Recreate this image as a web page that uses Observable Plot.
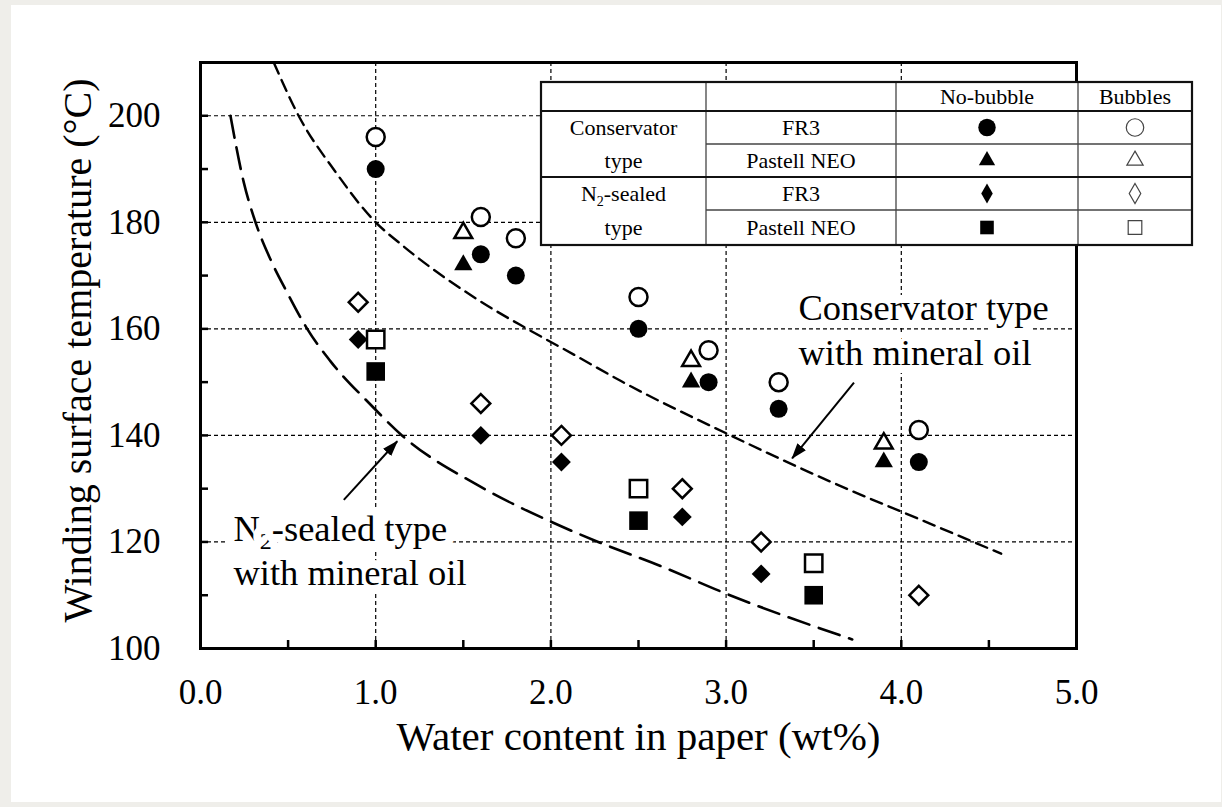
<!DOCTYPE html>
<html>
<head>
<meta charset="utf-8">
<script src="https://cdn.jsdelivr.net/npm/d3@7"></script>
<script src="https://cdn.jsdelivr.net/npm/@observablehq/plot@0.6"></script>
<style>
  html, body { margin: 0; padding: 0; background: #efeeea; width: 1222px; height: 807px; overflow: hidden; }
  #panel { position: absolute; left: 11px; top: 5px; width: 1210px; height: 797px; background: #ffffff; }
  #legend { position: absolute; left: 538px; top: 79px; }
</style>
</head>
<body>
<div id="panel"></div>
<div id="legend"></div>
<script>
// ---------------- data ----------------
// Conservator type, FR3 (circles)
const waterConsFR3 = [1.0, 1.6, 1.8, 2.5, 2.9, 3.3, 4.1];
const tempConsFR3NoBubble = [190, 174, 170, 160, 150, 145, 135];
const tempConsFR3Bubbles  = [196, 181, 177, 166, 156, 150, 141];
// Conservator type, Pastell NEO (triangles)
const waterConsNEO = [1.5, 2.8, 3.9];
const tempConsNEONoBubble = [172, 150, 135];
const tempConsNEOBubbles  = [178, 154, 138.5];
// N2-sealed type, FR3 (diamonds)
const waterN2FR3NoBubble = [0.9, 1.6, 2.06, 2.75, 3.2];
const tempN2FR3NoBubble  = [158, 140, 135, 124.7, 114];
const waterN2FR3Bubbles  = [0.9, 1.6, 2.06, 2.75, 3.2, 4.1];
const tempN2FR3Bubbles   = [165, 146, 140, 130, 120, 110];
// N2-sealed type, Pastell NEO (squares)
const waterN2NEO = [1.0, 2.5, 3.5];
const tempN2NEONoBubble = [152, 124, 110];
const tempN2NEOBubbles  = [158, 130, 116];

// Reference curves for mineral oil
const consCurveWater = [0.418, 0.56, 0.77, 1.0, 1.14, 1.64, 1.865, 2.14, 2.4, 3.0, 3.73, 4.0, 4.57];
const consCurveTemp  = [210, 200, 189.5, 180, 176, 164.3, 160, 155, 150.2, 140.4, 129.4, 125.7, 117.8];
const n2CurveWater = [0.171, 0.247, 0.314, 0.4, 0.495, 0.609, 0.74, 0.97, 1.15, 1.58, 2.0, 2.27, 2.64, 3.0, 3.72];
const n2CurveTemp  = [200, 187.5, 180, 173, 166.8, 160, 154, 145.8, 140, 130.7, 123.8, 120, 115.3, 110.3, 101.7];

// Annotations
const annotationTexts = ["Conservator type\nwith mineral oil", "N2-sealed type\nwith mineral oil"];
const annotationWater = [3.413, 0.188];
const annotationTemp  = [153.3, 111.9];
const arrowWaterFrom = [3.73, 0.818];
const arrowTempFrom  = [149.9, 127.9];
const arrowWaterTo   = [3.377, 1.123];
const arrowTempTo    = [135.7, 138.9];

// Axes
const xDomain = [0, 5];
const yDomain = [100, 210];
const xMajorTicks = [0, 1, 2, 3, 4, 5];
const xMinorTicks = [0.5, 1, 1.5, 2, 2.5, 3, 3.5, 4, 4.5];
const yMajorTicks = [100, 120, 140, 160, 180, 200];
const yMinorTicks = [110, 120, 130, 140, 150, 160, 170, 180, 190, 200];
const xGridTicks = [1, 2, 3, 4];
const yGridTicks = [120, 140, 160, 180, 200];
const xLabel = "Water content in paper (wt%)";
const yLabel = "Winding surface temperature (°C)";

// Legend table
const legendHeaders = ["No-bubble", "Bubbles"];
const legendGroupLines = [["Conservator", "type"], ["N2-sealed", "type"]];
const legendOils = ["FR3", "Pastell NEO", "FR3", "Pastell NEO"];

// ---------------- build ----------------
const rows = (xs, ys) => xs.map((x, i) => ({water: x, temp: ys[i]}));
const consCurve = rows(consCurveWater, consCurveTemp);
const n2Curve = rows(n2CurveWater, n2CurveTemp);
const annotations = annotationTexts.map((t, i) => ({text: t, water: annotationWater[i], temp: annotationTemp[i]}));
const arrows = arrowWaterFrom.map((x, i) => ({x1: x, y1: arrowTempFrom[i], x2: arrowWaterTo[i], y2: arrowTempTo[i]}));

const filled = {fill: "black", stroke: "none"};
const open = {fill: "white", stroke: "black", strokeWidth: 2.5};

const fontFamily = "'Liberation Serif', 'Times New Roman', Times, serif";

const chart = Plot.plot({
  width: 1210,
  height: 797,
  marginLeft: 189,
  marginRight: 145,
  marginTop: 57,
  marginBottom: 154,
  x: {domain: xDomain, label: null},
  y: {domain: yDomain, label: null},
  style: {fontFamily, color: "black", background: "white", overflow: "visible"},
  marks: [
    Plot.gridX({ticks: xGridTicks, stroke: "black", strokeOpacity: 1, strokeWidth: 1.2, strokeDasharray: "4,3"}),
    Plot.gridY({ticks: yGridTicks, stroke: "black", strokeOpacity: 1, strokeWidth: 1.2, strokeDasharray: "4,3"}),
    Plot.text(annotations, {
      x: "water", y: "temp", text: "text", textAnchor: "start", lineAnchor: "bottom",
      fontSize: 36.5, lineHeight: 1.22, fill: "black", stroke: "white", strokeWidth: 16, strokeLinejoin: "round"
    }),
    Plot.line(consCurve, {x: "water", y: "temp", curve: "monotone-x", stroke: "black", strokeWidth: 2.4, strokeDasharray: "12,7"}),
    Plot.line(n2Curve, {x: "water", y: "temp", curve: "monotone-x", stroke: "black", strokeWidth: 2.6, strokeDasharray: "22,10"}),
    Plot.link(arrows, {x1: "x1", y1: "y1", x2: "x2", y2: "y2", stroke: "black", strokeWidth: 2}),
    // Conservator FR3 (circles)
    Plot.dot(rows(waterConsFR3, tempConsFR3Bubbles), {x: "water", y: "temp", symbol: "circle", r: 9, ...open}),
    Plot.dot(rows(waterConsFR3, tempConsFR3NoBubble), {x: "water", y: "temp", symbol: "circle", r: 9, ...filled}),
    // Conservator Pastell NEO (triangles)
    Plot.dot(rows(waterConsNEO, tempConsNEOBubbles), {x: "water", y: "temp", symbol: "triangle", r: 6.6, ...open}),
    Plot.dot(rows(waterConsNEO, tempConsNEONoBubble), {x: "water", y: "temp", symbol: "triangle", r: 6.8, ...filled}),
    // N2 FR3 (diamonds)
    Plot.dot(rows(waterN2FR3Bubbles, tempN2FR3Bubbles), {x: "water", y: "temp", symbol: "diamond2", r: 8.5, ...open}),
    Plot.dot(rows(waterN2FR3NoBubble, tempN2FR3NoBubble), {x: "water", y: "temp", symbol: "diamond2", r: 8.5, ...filled}),
    // N2 Pastell NEO (squares)
    Plot.dot(rows(waterN2NEO, tempN2NEOBubbles), {x: "water", y: "temp", symbol: "square", r: 9.8, ...open}),
    Plot.dot(rows(waterN2NEO, tempN2NEONoBubble), {x: "water", y: "temp", symbol: "square", r: 10.5, ...filled}),
    Plot.frame({stroke: "black", strokeWidth: 3}),
    // inward minor ticks
    Plot.axisX({ticks: xMinorTicks, tickSize: -8, strokeWidth: 2.5, tickFormat: () => "", label: null}),
    Plot.axisY({ticks: yMinorTicks, tickSize: -8, strokeWidth: 2.5, tickFormat: () => "", label: null}),
    // tick labels
    Plot.axisX({ticks: xMajorTicks, tickSize: 0, tickPadding: 31, tickFormat: d3.format(".1f"), fontSize: 35, label: null}),
    Plot.axisY({ticks: yMajorTicks, tickSize: 0, tickPadding: 40, tickFormat: d3.format("d"), fontSize: 35, label: null}),
    // axis titles
    Plot.text([xLabel], {text: d => d, frameAnchor: "bottom", dy: 101, lineAnchor: "bottom", textAnchor: "middle", fontSize: 41, fill: "black"}),
    Plot.text([yLabel], {text: d => d, frameAnchor: "left", dx: -110, dy: -5, rotate: -90, lineAnchor: "bottom", textAnchor: "middle", fontSize: 40, fill: "black"})
  ]
});

document.getElementById("panel").appendChild(chart);

// ---- post-process: filled arrowheads and subscript 2 ----
const svg = d3.select(chart);
const defs = svg.insert("defs", ":first-child");
defs.append("marker")
  .attr("id", "ahead")
  .attr("viewBox", "0 -6 16 12")
  .attr("refX", 15).attr("refY", 0)
  .attr("markerWidth", 16).attr("markerHeight", 12)
  .attr("markerUnits", "userSpaceOnUse")
  .attr("orient", "auto")
  .append("path").attr("d", "M0,-5.5L16,0L0,5.5Z").attr("fill", "black");
svg.selectAll('g[aria-label="link"] path').attr("marker-end", "url(#ahead)");

svg.selectAll("text, tspan").each(function () {
  if (this.childNodes.length === 1 && this.firstChild.nodeType === 3 && this.textContent.startsWith("N2-")) {
    const rest = this.textContent.slice(2);
    this.textContent = "N";
    const sub = document.createElementNS("http://www.w3.org/2000/svg", "tspan");
    sub.setAttribute("dy", "8"); sub.setAttribute("font-size", "24"); sub.textContent = "2";
    const tail = document.createElementNS("http://www.w3.org/2000/svg", "tspan");
    tail.setAttribute("dy", "-8"); tail.textContent = rest;
    this.appendChild(sub); this.appendChild(tail);
  }
});

// ---------------- legend table ----------------
const cols = [0, 165, 355, 537, 651];
const rws = [0, 29, 62, 95, 128, 163];
const lsvg = d3.select("#legend").append("svg").attr("width", 660).attr("height", 170);
const g = lsvg.append("g").attr("transform", "translate(3,3)")
  .attr("font-family", "Liberation Serif, Times New Roman, serif").attr("font-size", 22);
g.append("rect").attr("x", 0).attr("y", 0).attr("width", cols[4]).attr("height", rws[5]).attr("fill", "white");
// thin inner lines
[cols[1], cols[2], cols[3]].forEach(x => g.append("line").attr("x1", x).attr("x2", x).attr("y1", 0).attr("y2", rws[5]).attr("stroke", "#444").attr("stroke-width", 1.3));
[rws[2], rws[4]].forEach(y => g.append("line").attr("x1", cols[1]).attr("x2", cols[4]).attr("y1", y).attr("y2", y).attr("stroke", "#444").attr("stroke-width", 1.3));
// thick lines
[rws[1], rws[3]].forEach(y => g.append("line").attr("x1", 0).attr("x2", cols[4]).attr("y1", y).attr("y2", y).attr("stroke", "#111").attr("stroke-width", 2.2));
g.append("rect").attr("x", 0).attr("y", 0).attr("width", cols[4]).attr("height", rws[5]).attr("fill", "none").attr("stroke", "#111").attr("stroke-width", 2.2);

const cx = i => (cols[i] + cols[i + 1]) / 2;
const cy = i => (rws[i] + rws[i + 1]) / 2;
legendHeaders.forEach((h, i) => g.append("text").attr("x", cx(i + 2)).attr("y", cy(0) + 7).attr("text-anchor", "middle").text(h));
legendGroupLines.forEach((lines, gi) => lines.forEach((t, li) => {
  const tx = g.append("text").attr("x", cx(0)).attr("y", cy(1 + gi * 2 + li) + 7).attr("text-anchor", "middle");
  if (t.startsWith("N2-")) {
    tx.append("tspan").text("N");
    tx.append("tspan").attr("dy", 5).attr("font-size", 14).text("2");
    tx.append("tspan").attr("dy", -5).text(t.slice(2));
  } else tx.text(t);
}));
legendOils.forEach((t, i) => g.append("text").attr("x", cx(1)).attr("y", cy(1 + i) + 7).attr("text-anchor", "middle").text(t));

const legendSymbols = [
  {type: d3.symbolCircle, size: 240},
  {type: d3.symbolTriangle, size: 115},
  {type: d3.symbolDiamond, size: 115},
  {type: d3.symbolSquare, size: 185}
];
legendSymbols.forEach((s, i) => {
  const path = d3.symbol(s.type, s.size)();
  g.append("path").attr("d", path).attr("transform", `translate(${cx(2)},${cy(1 + i)})`).attr("fill", "black");
  g.append("path").attr("d", path).attr("transform", `translate(${cx(3)},${cy(1 + i)})`).attr("fill", "white").attr("stroke", "#444").attr("stroke-width", 1.2);
});
</script>
</body>
</html>
